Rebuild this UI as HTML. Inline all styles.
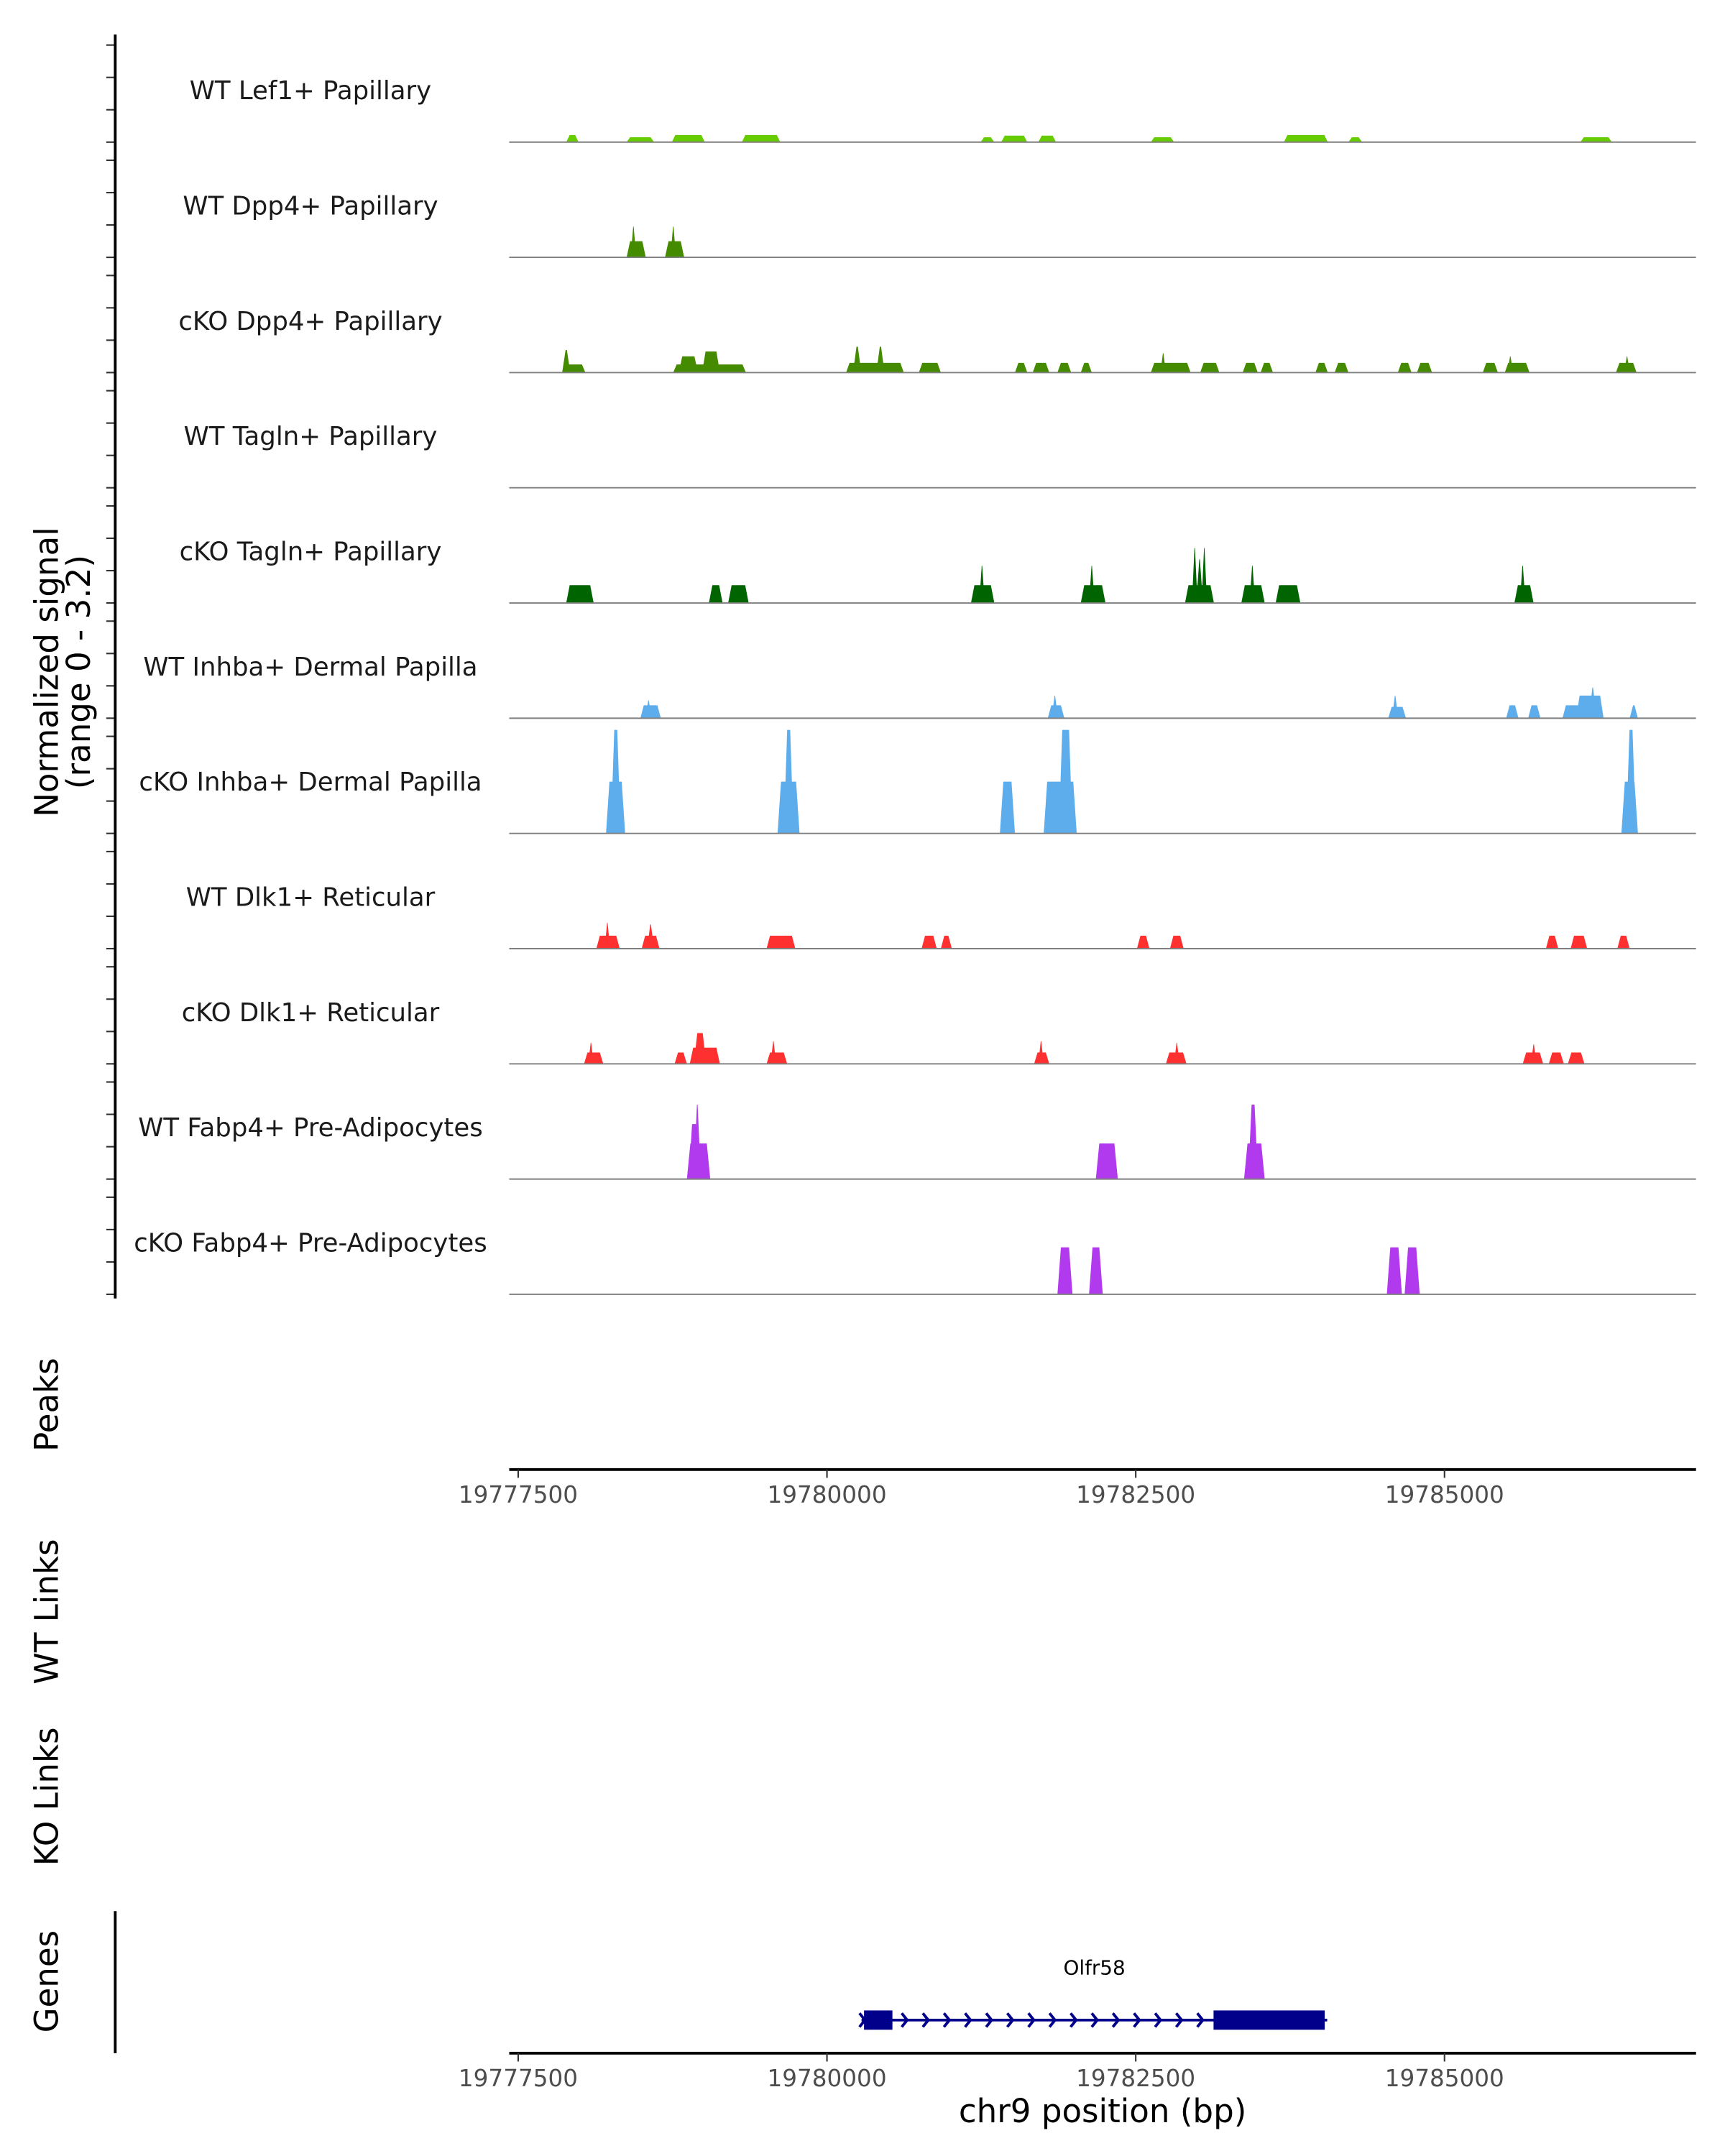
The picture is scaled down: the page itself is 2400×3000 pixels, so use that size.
<!DOCTYPE html>
<html><head><meta charset="utf-8"><style>
html,body{margin:0;padding:0;background:#fff;}
svg{display:block;font-family:"DejaVu Sans","Liberation Sans",sans-serif;}
</style></head><body>
<svg id="chart" width="2400" height="3000" viewBox="0 0 1250 1562.5" xmlns="http://www.w3.org/2000/svg">
<g id="tracks"></g>
<g id="axes"></g>
</svg>
<script>
const trackNames = ["WT Lef1+ Papillary","WT Dpp4+ Papillary","cKO Dpp4+ Papillary","WT Tagln+ Papillary","cKO Tagln+ Papillary","WT Inhba+ Dermal Papilla","cKO Inhba+ Dermal Papilla","WT Dlk1+ Reticular","cKO Dlk1+ Reticular","WT Fabp4+ Pre-Adipocytes","cKO Fabp4+ Pre-Adipocytes"];
const trackColors = ["#66CC00","#458B00","#458B00","#006400","#006400","#5DADEC","#5DADEC","#FF3030","#FF3030","#B23AEE","#B23AEE"];
// each segment: [start bp, end bp, signal]
const lef1WT = [[19777889,19777989,0.22],[19778378,19778600,0.15],[19778744,19779011,0.22],[19779311,19779622,0.22],[19781244,19781355,0.15],[19781411,19781622,0.2],[19781711,19781855,0.2],[19782622,19782811,0.15],[19783700,19784055,0.22],[19784222,19784333,0.15],[19786100,19786355,0.15]];
const dpp4WT = [[19778378,19778533,0.5],[19778411,19778455,0.95],[19778689,19778844,0.5],[19778733,19778778,0.95]];
const dpp4KO = [[19777856,19777922,0.7],[19777856,19778044,0.25],[19778755,19779344,0.25],[19778989,19779133,0.65],[19778800,19778955,0.5],[19780155,19780622,0.3],[19780211,19780278,0.8],[19780400,19780466,0.8],[19780744,19780922,0.3],[19781522,19781622,0.3],[19781666,19781800,0.3],[19781866,19781977,0.3],[19782055,19782144,0.3],[19782622,19782944,0.3],[19782700,19782744,0.6],[19783022,19783177,0.3],[19783366,19783488,0.3],[19783511,19783611,0.3],[19783955,19784055,0.3],[19784111,19784222,0.3],[19784622,19784733,0.3],[19784777,19784899,0.3],[19785310,19785432,0.3],[19785488,19785688,0.3],[19785510,19785555,0.5],[19786388,19786555,0.3],[19786455,19786500,0.5]];
const taglnWT = [];
const taglnKO = [[19777889,19778111,0.55],[19779044,19779155,0.55],[19779200,19779366,0.55],[19781166,19781355,0.55],[19781233,19781277,1.15],[19782055,19782255,0.55],[19782122,19782166,1.15],[19782899,19783133,0.55],[19782955,19783000,1.7],[19783033,19783077,1.7],[19782990,19783044,1.35],[19783355,19783544,0.55],[19783422,19783466,1.15],[19783633,19783833,0.55],[19785566,19785721,0.55],[19785610,19785655,1.15]];
const inhbaWT = [[19778489,19778655,0.4],[19778530,19778580,0.55],[19781788,19781922,0.4],[19781820,19781870,0.7],[19784544,19784688,0.35],[19784575,19784625,0.7],[19785499,19785599,0.4],[19785677,19785777,0.4],[19785955,19786288,0.4],[19786066,19786288,0.7],[19786170,19786230,0.95],[19786499,19786566,0.4]];
const inhbaKO = [[19778211,19778366,1.6],[19778250,19778330,3.2],[19779600,19779778,1.6],[19779650,19779730,3.2],[19781400,19781522,1.6],[19781755,19782022,1.6],[19781877,19781988,3.2],[19786432,19786566,1.6],[19786470,19786550,3.2]];
const dlk1WT = [[19778133,19778322,0.4],[19778200,19778244,0.8],[19778500,19778644,0.4],[19778544,19778600,0.75],[19779511,19779744,0.4],[19780766,19780889,0.4],[19780922,19781011,0.4],[19782510,19782611,0.4],[19782777,19782888,0.4],[19785821,19785921,0.4],[19786021,19786155,0.4],[19786399,19786499,0.4]];
const dlk1KO = [[19778033,19778189,0.35],[19778067,19778111,0.65],[19778766,19778866,0.35],[19778889,19779133,0.5],[19778922,19779022,0.95],[19779511,19779678,0.35],[19779544,19779588,0.7],[19781677,19781800,0.35],[19781711,19781755,0.7],[19782744,19782911,0.35],[19782810,19782855,0.65],[19785633,19785799,0.35],[19785700,19785744,0.6],[19785844,19785966,0.35],[19785999,19786133,0.35]];
const fabp4WT = [[19778866,19779055,1.1],[19778880,19778967,1.7],[19778920,19778980,2.3],[19782177,19782355,1.1],[19783377,19783544,1.1],[19783410,19783490,2.3]];
const fabp4KO = [[19781866,19781988,1.45],[19782122,19782233,1.45],[19784533,19784655,1.45],[19784677,19784799,1.45]];
const trackData = [lef1WT,dpp4WT,dpp4KO,taglnWT,taglnKO,inhbaWT,inhbaKO,dlk1WT,dlk1KO,fabp4WT,fabp4KO];
const xTicks = [19777500,19780000,19782500,19785000];
const yTicks = [0,1,2,3];
const geneName = "Olfr58";
const geneStart = 19780280;
const geneEnd = 19784050;
const exons = [[19780300,19780530],[19783130,19784030]];

const NS="http://www.w3.org/2000/svg";
const X0=375.5, XK=0.0895, BP0=19777500;
function xs(bp){return X0+(bp-BP0)*XK;}
const base0=103, trackStep=83.5, unitPx=23.45;
function ys(i,v){return base0+i*trackStep - v*unitPx;}
function mk(tag,attrs,parent,text){const e=document.createElementNS(NS,tag);for(const k in attrs)e.setAttribute(k,attrs[k]);if(text!==undefined)e.textContent=text;parent.appendChild(e);return e;}
const tracks=document.getElementById('tracks');
const axes=document.getElementById('axes');
const plotL=369, plotR=1229;

trackData.forEach((segs,i)=>{
  const g=mk('g',{},tracks);
  
  
  const lab=mk('text',{x:225,y:base0+i*trackStep-31,'text-anchor':'middle','font-size':'18.5',fill:'#1a1a1a'},g,trackNames[i]);
  
  
  segs.forEach(s=>{
    const x1=xs(s[0]),x2=xs(s[1]),yb=ys(i,0),yt=ys(i,s[2]);
    const t=Math.min(2.5,(x2-x1)/2.2);
    const p=mk('polygon',{points:`${x1},${yb} ${x1+t},${yt} ${x2-t},${yt} ${x2},${yb}`,fill:trackColors[i]},g);
    
    
  });
  const bl=mk('line',{x1:plotL,x2:plotR,y1:ys(i,0),y2:ys(i,0),stroke:'#7f7f7f','stroke-width':1},g);
  
  
  yTicks.forEach(v=>{
    const tk=mk('line',{x1:77,x2:83,y1:ys(i,v),y2:ys(i,v),stroke:'#333','stroke-width':1.1},axes);
    
    
  });
});
let l=mk('line',{x1:83.5,x2:83.5,y1:25,y2:941,stroke:'#000','stroke-width':2},axes);


let yt=mk('text',{transform:'translate(42,487) rotate(-90)','text-anchor':'middle','font-size':'23.5',fill:'#000'},axes,'Normalized signal');


let yt2=mk('text',{transform:'translate(65,487) rotate(-90)','text-anchor':'middle','font-size':'23.5',fill:'#000'},axes,'(range 0 - 3.2)');



[["Peaks",1018],["WT Links",1168],["KO Links",1302],["Genes",1436]].forEach(([t,y])=>{
  const e=mk('text',{transform:`translate(42,${y}) rotate(-90)`,'text-anchor':'middle','font-size':'23.5',fill:'#000'},axes,t);
  
  
});

function xAxis(y,name){
  const g=mk('g',{},axes);
  
  
  mk('line',{x1:plotL,x2:plotR,y1:y,y2:y,stroke:'#000','stroke-width':2},g);
  xTicks.forEach(t=>{
    mk('line',{x1:xs(t),x2:xs(t),y1:y,y2:y+6,stroke:'#333','stroke-width':1.1},g);
    const tx=mk('text',{x:xs(t),y:y+24,'text-anchor':'middle','font-size':'17',fill:'#4d4d4d'},g,String(t));
    
    
  });
}
xAxis(1065,'peaks-x-axis');
xAxis(1488,'genes-x-axis');
let xt=mk('text',{x:799,y:1538,'text-anchor':'middle','font-size':'23.5',fill:'#000'},axes,'chr9 position (bp)');


l=mk('line',{x1:83.5,x2:83.5,y1:1385,y2:1488,stroke:'#000','stroke-width':2},axes);



const gg=mk('g',{},axes);


const gy=1464;
mk('text',{x:(xs(geneStart)+xs(geneEnd))/2,y:1431,'text-anchor':'middle','font-size':'14.5',fill:'#000'},gg,geneName);
mk('line',{x1:xs(geneStart),x2:xs(geneEnd),y1:gy,y2:gy,stroke:'#00008B','stroke-width':2},gg);
for(let x=xs(geneStart)+1;x<xs(exons[1][0]);x+=15.3){
  mk('polyline',{points:`${x-2.5},${gy-5} ${x+1.5},${gy} ${x-2.5},${gy+5}`,fill:'none',stroke:'#00008B','stroke-width':2},gg);
}
exons.forEach(e=>{
  const r=mk('rect',{x:xs(e[0]),y:gy-7,width:xs(e[1])-xs(e[0]),height:14,fill:'#00008B'},gg);
  
  
});
</script>
</body></html>
